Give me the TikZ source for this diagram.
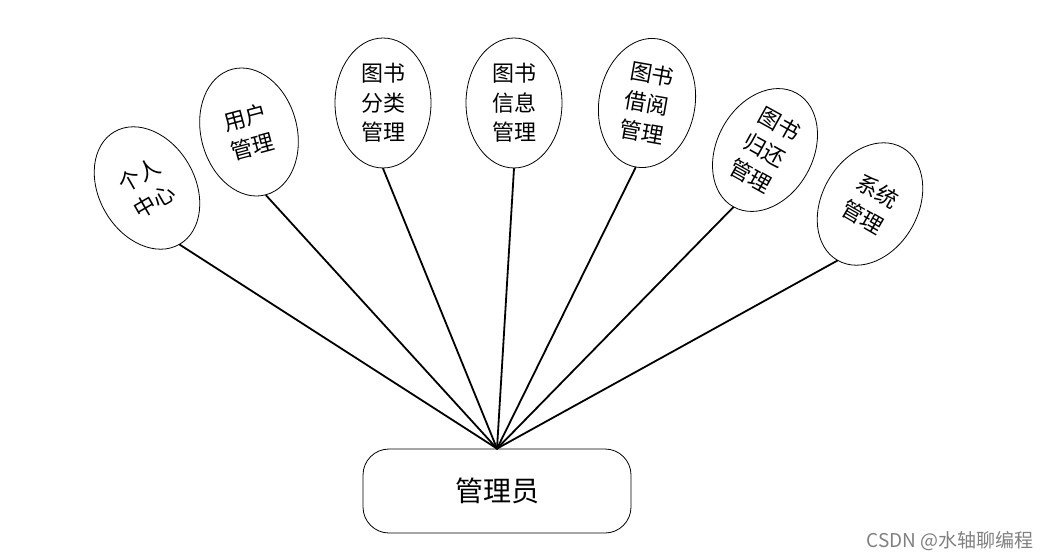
\documentclass[tikz,border=0pt]{standalone}
\usepackage{fontspec}
\newfontfamily\cjk{Noto Sans CJK SC}
\usetikzlibrary{shapes.geometric,positioning}
\tikzset{
  topic/.style={ellipse, draw, line width=0.8pt, minimum width=96pt, minimum height=130pt,
    inner sep=0pt, align=center, font=\cjk\fontsize{22}{29.5}\selectfont},
  rolebox/.style={rectangle, rounded corners=26pt, draw, line width=0.8pt,
    minimum width=268pt, minimum height=84pt, font=\cjk\fontsize{28}{32}\selectfont},
  link/.style={line width=1.8pt, line cap=round},
}

\begin{document}
\begin{tikzpicture}[x=1pt,y=-1pt]
    \useasboundingbox (0,0) rectangle (1051,559);
    % the functions
    \node[topic, rotate=30] (center) at (147,188) {个人\\中心};
    \node[topic, rotate=15] (users) at (249,132) {用户\\管理};
    \node[topic] (category) at (383,103) {图书\\分类\\管理};
    \node[topic] (info) at (514,103) {图书\\信息\\管理};
    \node[topic, rotate=-10] (borrow) at (647,103) {图书\\借阅\\管理};
    \node[topic, rotate=-29] (return) at (765,150) {图书\\归还\\管理};
    \node[topic, rotate=-30] (system) at (870,204) {系统\\管理};
    % the role
    \node[rolebox] (admin) at (497,491) {管理员};
    \foreach \n in {center,users,category,info,borrow,return,system} {
      \draw[link] (admin.north) -- (\n.south);
    }
    \node[gray, font=\cjk\fontsize{19}{22}\selectfont] (mark) at (950,541) {CSDN @水轴聊编程};
  \end{tikzpicture}
\end{document}
